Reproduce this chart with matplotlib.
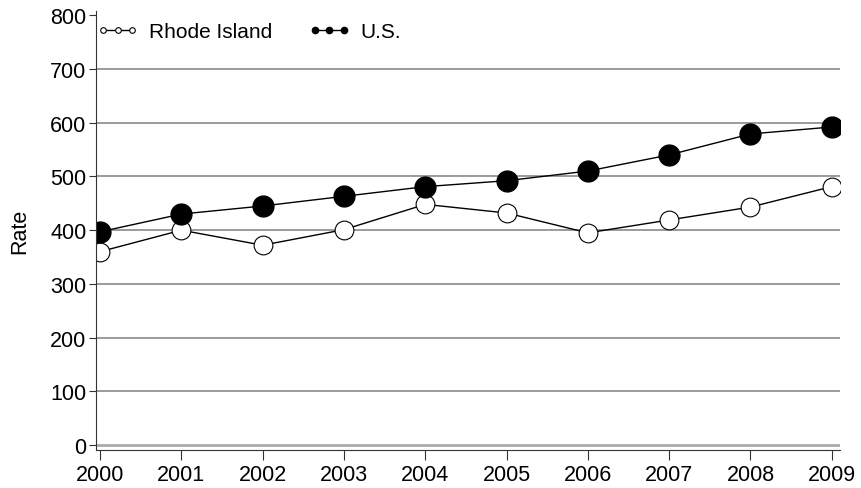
import matplotlib.pyplot as plt

plt.rcParams['font.family'] = ['Liberation Sans', 'DejaVu Sans']

years = [2000, 2001, 2002, 2003, 2004, 2005, 2006, 2007, 2008, 2009]
rhode_island = [360, 400, 372, 401, 448, 432, 395, 419, 443, 481]
us = [397, 430, 445, 463, 481, 492, 510, 540, 579, 592]
y_ticks = [0, 100, 200, 300, 400, 500, 600, 700, 800]
grid_ticks = [100, 200, 300, 400, 500, 600, 700]

fig = plt.figure(figsize=(8.61, 4.89), dpi=100)
ax = fig.add_axes([0.1115, 0.0777, 0.864, 0.898])

# gridlines (no line at 800, lighter one at 0)
for t in grid_ticks:
    ax.axhline(t, color='#8a8a8a', lw=1.2, zorder=0)
ax.axhline(0, color='#aaaaaa', lw=2, zorder=0)

ax.plot(years, rhode_island, color='black', lw=1, marker='o', ms=13.5,
        mfc='white', mec='black', mew=0.8, label='Rhode Island')
ax.plot(years, us, color='black', lw=1, marker='o', ms=15,
        mfc='black', mec='black', label='U.S.')

ax.set_xlim(1999.95, 2009.1)
ax.set_ylim(-9, 808)
ax.set_xticks(years)
ax.set_yticks(y_ticks)
ax.tick_params(labelsize=15.5, color='#333333')
ax.tick_params(axis='x', length=7, pad=3)
ax.tick_params(axis='y', length=5, pad=2)
ax.set_ylabel('Rate', fontsize=15.5, labelpad=14)

for side in ['top', 'right']:
    ax.spines[side].set_visible(False)
ax.spines['left'].set_color('#333333')
ax.spines['bottom'].set_color('#333333')

ax.legend(loc='upper left', bbox_to_anchor=(0.001, 0.975), frameon=False,
          numpoints=3, markerscale=0.3, fontsize=15, ncol=2,
          handlelength=2.0, handletextpad=0.5, columnspacing=1.75,
          borderaxespad=0, borderpad=0)

fig.savefig('out.png', dpi=100)
